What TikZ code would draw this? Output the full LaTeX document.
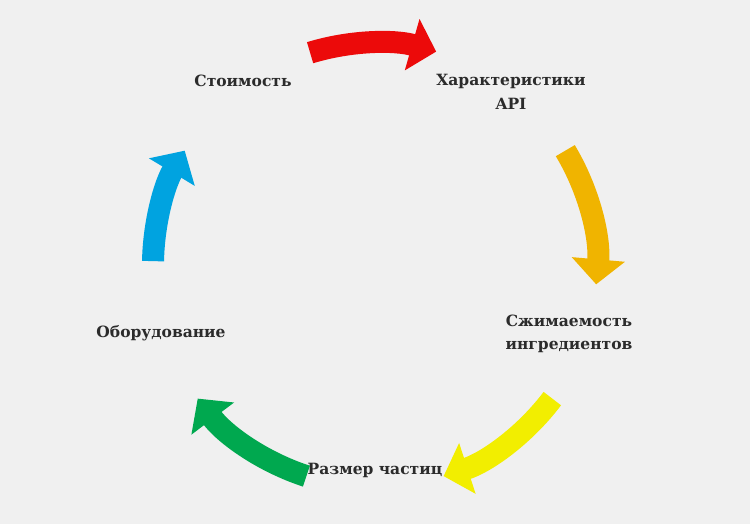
\documentclass[tikz,border=0pt]{standalone}
\usepackage{fontspec}
\setmainfont{DejaVu Serif}
\usetikzlibrary{arrows.meta}

\definecolor{bgcol}{HTML}{F0F0F0}
\definecolor{txtcol}{HTML}{2B2B2B}
\definecolor{cred}{HTML}{EC0A0A}
\definecolor{corange}{HTML}{F0B400}
\definecolor{cyellow}{HTML}{F2EE00}
\definecolor{cgreen}{HTML}{00A84F}
\definecolor{cblue}{HTML}{00A3E0}

\begin{document}
\begin{tikzpicture}[x=1pt,y=-1pt,
    lbl/.style={font=\bfseries\fontsize{15.5}{23.5}\selectfont,text=txtcol,align=center,inner sep=0pt},
    cycarrow/.style={line width=22pt,-{Triangle[length=25pt,width=52pt]}}]

  \fill[bgcol] (0,0) rectangle (750,524);
  \useasboundingbox (0,0) rectangle (750,524);

  \coordinate (center) at (375,265);

  % labels
  \node[lbl] (stoimost) at (243,81) {Стоимость};
  \node[lbl] (harakt) at (511,92) {Характеристики\\API};
  \node[lbl] (szhim) at (569,334) {Сжимаемость\\ингредиентов};
  \node[lbl] (razmer) at (375,470) {Размер частиц};
  \node[lbl] (oborud) at (161,333) {Оборудование};

  % arrows round the cycle
  \foreach \col/\a/\b in {cred/-107/-74,corange/-31/5,cyellow/37/72,cgreen/108/143,cblue/181/211}
    \draw[cycarrow,\col] ([shift={(\a:222)}]center) arc[start angle=\a,end angle=\b,radius=222];
\end{tikzpicture}
\end{document}
